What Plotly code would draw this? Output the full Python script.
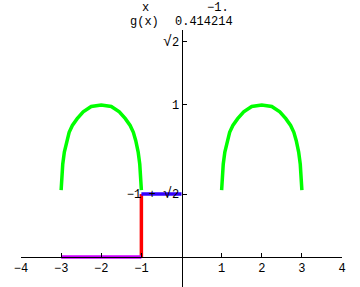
import plotly.graph_objects as go

# ---- data ----
left_arc_x = [-3.00, -2.985, -2.96, -2.92, -2.86, -2.80, -2.72, -2.60, -2.45, -2.25, -2.00,
              -1.75, -1.55, -1.40, -1.28, -1.20, -1.14, -1.08, -1.04, -1.015, -1.00]
left_arc_y = [0.44, 0.53, 0.61, 0.69, 0.765, 0.82, 0.865, 0.91, 0.955, 0.99, 1.00,
              0.99, 0.955, 0.91, 0.865, 0.82, 0.765, 0.69, 0.61, 0.53, 0.44]
right_arc_x = [1.00, 1.015, 1.04, 1.08, 1.14, 1.20, 1.28, 1.40, 1.55, 1.75, 2.00,
               2.25, 2.45, 2.60, 2.72, 2.80, 2.86, 2.92, 2.96, 2.985, 3.00]
right_arc_y = [0.44, 0.53, 0.61, 0.69, 0.765, 0.82, 0.865, 0.91, 0.955, 0.99, 1.00,
               0.99, 0.955, 0.91, 0.865, 0.82, 0.765, 0.69, 0.61, 0.53, 0.44]
magenta_x = [-3, -1]
magenta_y = [0, 0]
red_x = [-1, -1]
red_y = [0, 0.414214]
blue_x = [-1, 0]
blue_y = [0.414214, 0.414214]

x_ticks = [-4, -3, -2, -1, 1, 2, 3, 4]
x_ticktext = ["\u22124", "\u22123", "\u22122", "\u22121", "1", "2", "3", "4"]
y_ticks = [0.414214, 1, 1.414214]
rad = "<span style='font-size:15px'>\u221a</span>2"
y_ticktext = ["\u22121 + " + rad, "1", rad]

readout_labels = ["x", "g(x)"]
readout_values = ["\u22121.", "0.414214"]

X_RANGE = [-4, 4]
Y_RANGE = [-0.197, 1.493]

fig = go.Figure()
fig.add_trace(go.Scatter(x=left_arc_x, y=left_arc_y, mode="lines",
                         line=dict(color="#00ff00", width=3.5), hoverinfo="skip"))
fig.add_trace(go.Scatter(x=right_arc_x, y=right_arc_y, mode="lines",
                         line=dict(color="#00ff00", width=3.5), hoverinfo="skip"))
fig.add_trace(go.Scatter(x=red_x, y=red_y, mode="lines",
                         line=dict(color="#ff0000", width=3.5), hoverinfo="skip"))
fig.add_trace(go.Scatter(x=blue_x, y=blue_y, mode="lines",
                         line=dict(color="#3300ff", width=3.5), hoverinfo="skip"))
fig.add_trace(go.Scatter(x=magenta_x, y=magenta_y, mode="lines",
                         line=dict(color="#cc00ff", width=3.5), hoverinfo="skip"))

y0_frac = (0 - Y_RANGE[0]) / (Y_RANGE[1] - Y_RANGE[0])
x0_frac = (0 - X_RANGE[0]) / (X_RANGE[1] - X_RANGE[0])

tickfont = dict(family="Liberation Mono, DejaVu Sans Mono, monospace", size=12, color="black")

fig.update_layout(
    width=360, height=287,
    margin=dict(l=21, r=18, t=30, b=0),
    paper_bgcolor="white", plot_bgcolor="white",
    showlegend=False,
    xaxis=dict(range=X_RANGE, anchor="free", position=y0_frac,
               showgrid=False, zeroline=False, showline=True, linecolor="black", linewidth=1,
               tickvals=x_ticks, ticktext=x_ticktext, ticks="inside", ticklen=4,
               tickcolor="black", tickwidth=1, tickfont=tickfont),
    yaxis=dict(range=Y_RANGE, anchor="free", position=x0_frac, layer="above traces",
               showgrid=False, zeroline=False, showline=True, linecolor="black", linewidth=1,
               tickvals=y_ticks, ticktext=y_ticktext, ticks="inside", ticklen=4,
               tickcolor="black", tickwidth=1, tickfont=tickfont),
)

ann_font = dict(family="Liberation Mono, Courier New, monospace", size=12, color="black")
row_top = [1 + 30 / 257, 1 + 16 / 257]
label_x = [(145 - 21) / 321, (144.5 - 21) / 321]
value_x = [(217.5 - 21) / 321, (204 - 21) / 321]
for i in range(2):
    fig.add_annotation(text=readout_labels[i], x=label_x[i], y=row_top[i], xref="paper", yref="paper",
                       showarrow=False, font=ann_font, xanchor="center", yanchor="top", borderpad=0)
    fig.add_annotation(text=readout_values[i], x=value_x[i], y=row_top[i], xref="paper", yref="paper",
                       showarrow=False, font=ann_font, xanchor="center", yanchor="top", borderpad=0)

fig.write_html("out.html")
